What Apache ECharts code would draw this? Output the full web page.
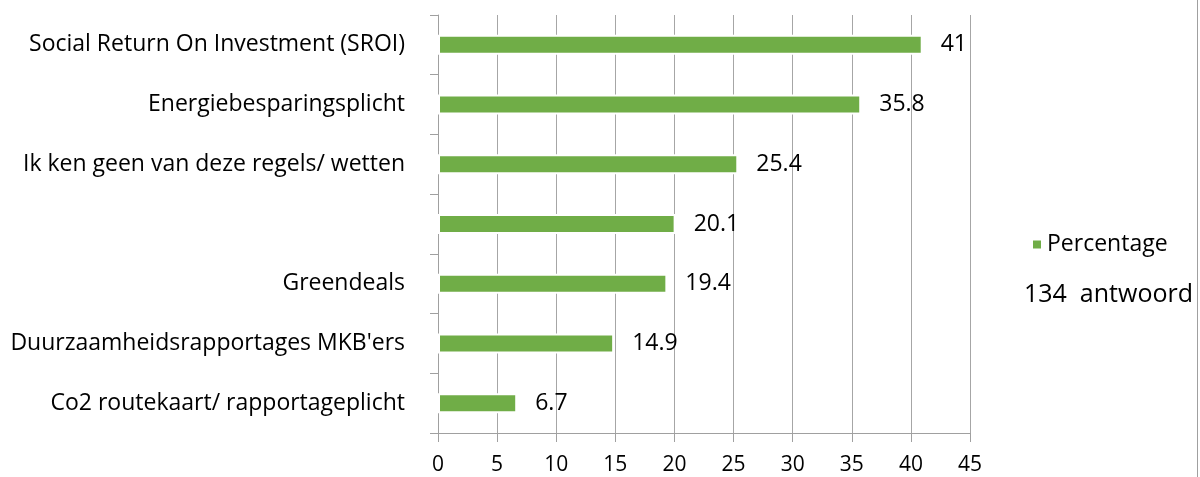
<!DOCTYPE html>
<html>
<head>
<meta charset="utf-8">
<script src="https://cdn.jsdelivr.net/npm/echarts@6/dist/echarts.min.js"></script>
<style>
  html, body { margin: 0; padding: 0; background: #fff; }
  #main { width: 1200px; height: 477px; }
</style>
</head>
<body>
<div id="main"></div>
<script>
  // categories from bottom to top
  var categories = [
    'Co2 routekaart/ rapportageplicht',
    "Duurzaamheidsrapportages MKB'ers",
    'Greendeals',
    '',
    'Ik ken geen van deze regels/ wetten',
    'Energiebesparingsplicht',
    'Social Return On Investment (SROI)'
  ]
  var percentage = [6.7, 14.9, 19.4, 20.1, 25.4, 35.8, 41]
  var seriesName = 'Percentage'
  var noteText = '134  antwoord'

  var font = '"Open Sans", sans-serif'
  var chart = echarts.init(document.getElementById('main'))

  chart.setOption({
    animation: false,
    textStyle: { fontFamily: font },
    grid: { left: 438, right: 230, top: 15, bottom: 44 },
    legend: {
      left: 1026,
      top: 228,
      icon: 'rect',
      itemWidth: 10,
      itemHeight: 10,
      itemGap: 10,
      textStyle: { fontSize: 23, color: '#000', fontFamily: font },
      data: [seriesName]
    },
    xAxis: {
      type: 'value',
      min: 0,
      max: 45,
      interval: 5,
      axisLine: { show: true, lineStyle: { color: '#a0a0a0', width: 1 } },
      axisTick: { show: true, length: 9, lineStyle: { color: '#a0a0a0' } },
      axisLabel: { fontSize: 21, color: '#000', margin: 22, fontFamily: font },
      splitLine: { show: true, lineStyle: { color: '#a6a6a6', width: 1 } }
    },
    yAxis: {
      type: 'category',
      data: categories,
      axisLine: { show: true, lineStyle: { color: '#a0a0a0', width: 1 } },
      axisTick: { show: true, length: 8, lineStyle: { color: '#a0a0a0' } },
      axisLabel: { fontSize: 23, color: '#000', margin: 33, fontFamily: font },
      splitLine: { show: false }
    },
    series: [
      {
        name: seriesName,
        type: 'bar',
        data: percentage,
        barWidth: 20,
        itemStyle: { color: '#70ad47', borderColor: '#fff', borderWidth: 2 },
        label: {
          show: true,
          position: 'right',
          distance: 18,
          fontSize: 23,
          color: '#000',
          fontFamily: font
        }
      }
    ],
    graphic: [
      {
        type: 'text',
        left: 1024,
        top: 282,
        style: { text: noteText, fontSize: 25, fill: '#000', fontFamily: font }
      },
      {
        type: 'line',
        shape: { x1: 1197.5, y1: 0, x2: 1197.5, y2: 477 },
        style: { stroke: '#a0a0a0', lineWidth: 1 },
        z: 10
      }
    ]
  })
</script>
</body>
</html>
